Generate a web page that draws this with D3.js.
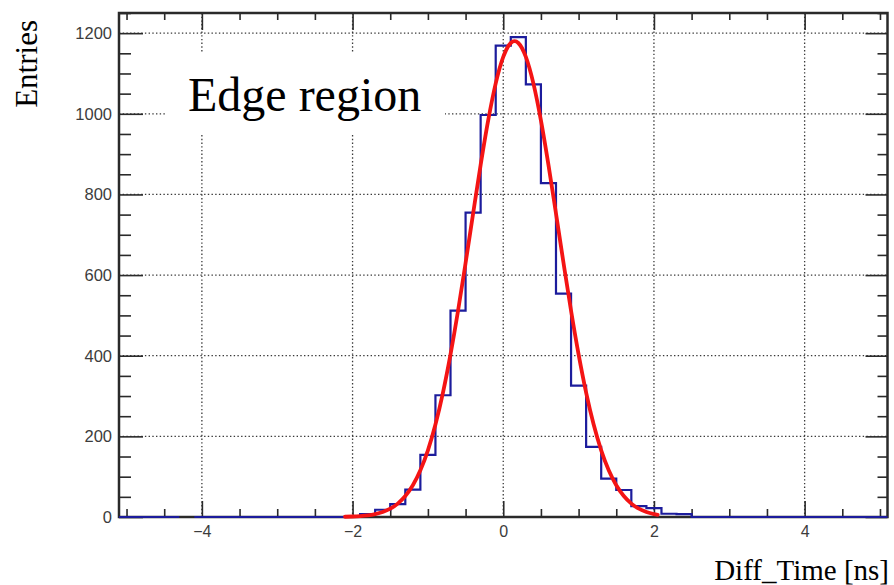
<!DOCTYPE html>
<html>
<head>
<meta charset="utf-8">
<script src="https://cdn.jsdelivr.net/npm/d3@7"></script>
<style>
  html, body { margin: 0; padding: 0; background: #fff; }
  svg { display: block; }
</style>
</head>
<body>
<svg id="chart" width="894" height="585"></svg>
<script>
// ---------------- data ----------------
const binWidth = 0.2;
const binCenters = [
  -5.0, -4.8, -4.6, -4.4, -4.2, -4.0, -3.8, -3.6, -3.4, -3.2, -3.0, -2.8, -2.6, -2.4, -2.2,
  -2.0, -1.8, -1.6, -1.4, -1.2, -1.0, -0.8, -0.6, -0.4, -0.2, 0.0, 0.2, 0.4, 0.6, 0.8,
  1.0, 1.2, 1.4, 1.6, 1.8, 2.0, 2.2, 2.4, 2.6, 2.8, 3.0, 3.2, 3.4, 3.6, 3.8, 4.0,
  4.2, 4.4, 4.6, 4.8, 5.0
];
const binCounts = [
  0, 0, 0, 0, null, 0, 0, 0, 0, 0, 0, 0, 0, 0, 0,
  2, 7, 18, 32, 68, 154, 302, 512, 755, 997, 1169, 1190, 1073, 828, 554,
  326, 174, 95, 67, 27, 22, 8, 7, 0, 0, 0, 0, 0, 0, 0, 0,
  0, 0, 0, 0, 0
];
// Gaussian fit curve
const fitX = [-2.1, -2.0, -1.9, -1.8, -1.7, -1.6, -1.5, -1.4, -1.3, -1.2, -1.1, -1.0, -0.9, -0.8,
  -0.7, -0.6, -0.5, -0.4, -0.3, -0.2, -0.1, 0.0, 0.1, 0.15, 0.2, 0.3, 0.4, 0.5, 0.6, 0.7, 0.8,
  0.9, 1.0, 1.1, 1.2, 1.3, 1.4, 1.5, 1.6, 1.7, 1.8, 1.9, 2.0, 2.05];
const fitY = [0.6, 1.2, 2.3, 4.1, 7.3, 12.4, 20.6, 33.2, 51.9, 78.6, 115.7, 165.3, 229.2, 308.5,
  403.2, 511.4, 629.8, 752.7, 873.3, 983.5, 1075.4, 1141.2, 1175.6, 1180, 1175.6, 1141.2, 1075.4, 983.5, 873.3, 752.7, 629.8,
  511.4, 403.2, 308.5, 229.2, 165.3, 115.7, 78.6, 51.9, 33.2, 20.6, 12.4, 7.3, 5.5];

const xDomain = [-5.1, 5.1];
const yDomain = [0, 1250];
const xMajorTicks = [-4, -2, 0, 2, 4];
const xTickLabels = ["\u22124", "\u22122", "0", "2", "4"];
const xMinorTicks = [-5, -4.5, -3.5, -3, -2.5, -1.5, -1, -0.5, 0.5, 1, 1.5, 2.5, 3, 3.5, 4.5, 5];
const yMajorTicks = [0, 200, 400, 600, 800, 1000, 1200];
const yTickLabels = ["0", "200", "400", "600", "800", "1000", "1200"];
const yMinorTicks = [50, 100, 150, 250, 300, 350, 450, 500, 550, 650, 700, 750, 850, 900, 950, 1050, 1100, 1150, 1250];

const xTitle = "Diff_Time [ns]";
const yTitle = "Entries";
const annotation = "Edge region";

// ---------------- layout ----------------
const L = 119, R = 887.5, T = 13, B = 517;
const svg = d3.select("#chart");
const x = d3.scaleLinear().domain(xDomain).range([L, R]);
const y = d3.scaleLinear().domain(yDomain).range([B, T]);

// grid
const grid = svg.append("g").attr("stroke", "#3a3a3a").attr("stroke-width", 1.3)
  .attr("stroke-dasharray", "1.4,2.3").attr("fill", "none");
grid.selectAll("line.gx").data(xMajorTicks).join("line")
  .attr("x1", d => x(d)).attr("x2", d => x(d)).attr("y1", T).attr("y2", B);
grid.selectAll("line.gy").data(yMajorTicks.filter(d => d > 0)).join("line")
  .attr("x1", L).attr("x2", R).attr("y1", d => y(d)).attr("y2", d => y(d));

// annotation box + text
svg.append("rect").attr("x", 167).attr("y", 53).attr("width", 278).attr("height", 82).attr("fill", "#fff");
svg.append("text").attr("x", 188).attr("y", 110.7)
  .attr("font-family", "'Liberation Serif', 'Times New Roman', serif")
  .attr("font-size", 48).attr("fill", "#000").text(annotation);

// axes with d3 axis generators (ticks inward, both sides)
const tickColor = "#2a2a2a";
const labelFont = "'Liberation Sans', Arial, Helvetica, sans-serif";
function styleAxis(g) {
  g.select(".domain").remove();
  g.selectAll("line").attr("stroke", tickColor).attr("stroke-width", 1.6);
}
// bottom major
svg.append("g").attr("transform", `translate(0,${B})`)
  .call(d3.axisBottom(x).tickValues(xMajorTicks).tickSize(-16).tickFormat((d, i) => xTickLabels[i]))
  .call(styleAxis)
  .call(g => g.selectAll("text").attr("y", 8.5).attr("font-family", labelFont)
    .attr("font-size", 16).attr("fill", "#3c3c3c"));
svg.append("g").attr("transform", `translate(0,${B})`)
  .call(d3.axisBottom(x).tickValues(xMinorTicks).tickSize(-8).tickFormat(""))
  .call(styleAxis);
// top
svg.append("g").attr("transform", `translate(0,${T})`)
  .call(d3.axisTop(x).tickValues(xMajorTicks).tickSize(-17).tickFormat(""))
  .call(styleAxis);
svg.append("g").attr("transform", `translate(0,${T})`)
  .call(d3.axisTop(x).tickValues(xMinorTicks).tickSize(-7).tickFormat(""))
  .call(styleAxis);
// left
svg.append("g").attr("transform", `translate(${L},0)`)
  .call(d3.axisLeft(y).tickValues(yMajorTicks).tickSize(-24).tickFormat((d, i) => yTickLabels[i]))
  .call(styleAxis)
  .call(g => g.selectAll("text").attr("x", -7).attr("font-family", labelFont)
    .attr("font-size", 16.5).attr("fill", "#3c3c3c"));
svg.append("g").attr("transform", `translate(${L},0)`)
  .call(d3.axisLeft(y).tickValues(yMinorTicks).tickSize(-12).tickFormat(""))
  .call(styleAxis);
// right
svg.append("g").attr("transform", `translate(${R},0)`)
  .call(d3.axisRight(y).tickValues(yMajorTicks).tickSize(-22).tickFormat(""))
  .call(styleAxis);
svg.append("g").attr("transform", `translate(${R},0)`)
  .call(d3.axisRight(y).tickValues(yMinorTicks).tickSize(-10).tickFormat(""))
  .call(styleAxis);

// frame
svg.append("rect").attr("x", L).attr("y", T).attr("width", R - L).attr("height", B - T)
  .attr("fill", "none").attr("stroke", "#2a2a2a").attr("stroke-width", 2.5);

// histogram (step outline)
const stepPts = [];
binCenters.forEach((c, i) => {
  stepPts.push([c - binWidth / 2, binCounts[i]]);
  stepPts.push([c + binWidth / 2, binCounts[i]]);
});
const stepLine = d3.line().defined(d => d[1] !== null).x(d => x(d[0])).y(d => y(d[1]));
svg.append("path").attr("d", stepLine(stepPts))
  .attr("fill", "none").attr("stroke", "#1c1c9c").attr("stroke-width", 2.2);

// fit curve
const fitLine = d3.line().x(d => x(d[0])).y(d => y(d[1])).curve(d3.curveMonotoneX);
svg.append("path").attr("d", fitLine(fitX.map((v, i) => [v, fitY[i]])))
  .attr("fill", "none").attr("stroke", "#f41414").attr("stroke-width", 3.8)
  .attr("stroke-linejoin", "round").attr("stroke-linecap", "round");

// titles
svg.append("text").attr("transform", "translate(36.5,20) rotate(-90)")
  .attr("text-anchor", "end")
  .attr("font-family", "'Liberation Serif', 'Times New Roman', serif")
  .attr("font-size", 31).attr("fill", "#000").text(yTitle);
svg.append("text").attr("x", 889).attr("y", 580).attr("text-anchor", "end")
  .attr("font-family", "'Liberation Serif', 'Times New Roman', serif")
  .attr("font-size", 29).attr("fill", "#000").text(xTitle);
</script>
</body>
</html>
